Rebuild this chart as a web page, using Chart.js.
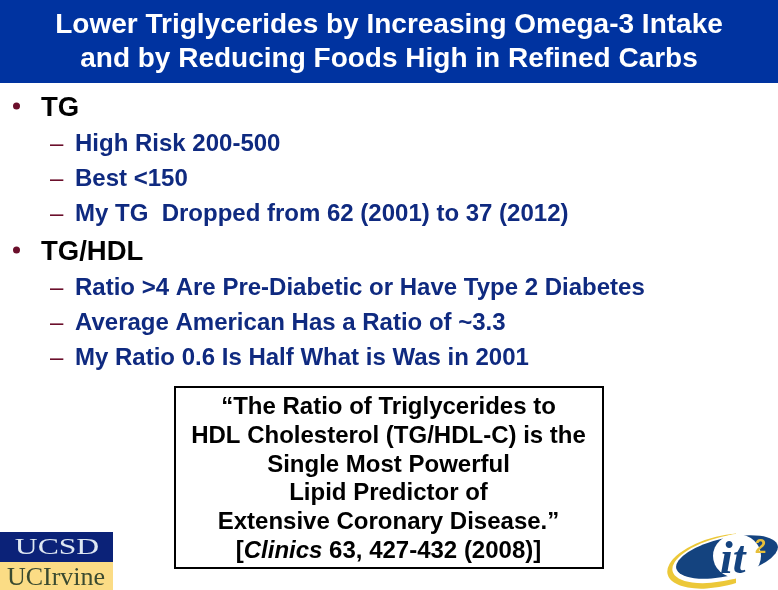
<!DOCTYPE html>
<html lang="en">
<head>
    <meta charset="UTF-8">
    <title>Lower Triglycerides</title>
    <style>
        html, body { margin: 0; padding: 0; background: #fff; overflow: hidden; }
        canvas { display: block; }
    </style>
</head>
<body>
    <canvas id="slide" width="778" height="590"></canvas>

    <script src="https://cdn.jsdelivr.net/npm/chart.js"></script>
    <script>
        const titleLines = ['Lower Triglycerides by Increasing Omega-3 Intake', 'and by Reducing Foods High in Refined Carbs'];
        const sectionOne = 'TG';
        const sectionOneItems = ['High Risk 200-500', 'Best <150', 'My TG  Dropped from 62 (2001) to 37 (2012)'];
        const sectionTwo = 'TG/HDL';
        const sectionTwoItems = ['Ratio >4 Are Pre-Diabetic or Have Type 2 Diabetes', 'Average American Has a Ratio of ~3.3', 'My Ratio 0.6 Is Half What is Was in 2001'];
        const quoteLines = ['\u201CThe Ratio of Triglycerides to', 'HDL Cholesterol (TG/HDL-C) is the', 'Single Most Powerful', 'Lipid Predictor of', 'Extensive Coronary Disease.\u201D'];
        const citation = ['[', 'Clinics', ' 63, 427-432 (2008)]'];

        const FONT = '"Liberation Sans", Arial, sans-serif';

        // slide furniture and body text, there is no data series on this one
        const slidePlugin = {
            id: 'slide',
            beforeDraw(chart) {
                const c = chart.ctx;
                c.save();
                c.fillStyle = '#ffffff';
                c.fillRect(0, 0, 778, 590);
                c.fillStyle = '#0033a0';
                c.fillRect(0, 0, 778, 83);
                c.restore();
            },
            afterDraw(chart) {
                const c = chart.ctx;
                c.save();
                c.textBaseline = 'alphabetic';

                function section(label, y, items, firstY) {
                    c.fillStyle = '#6b0f2b';
                    c.beginPath();
                    c.arc(16.5, y - 10, 3.5, 0, Math.PI * 2);
                    c.fill();
                    c.fillStyle = '#000';
                    c.textAlign = 'left';
                    c.font = 'bold 27.5px ' + FONT;
                    c.fillText(label, 41, y);
                    items.forEach((t, i) => {
                        const ly = firstY + i * 35;
                        c.font = '24px ' + FONT;
                        c.fillStyle = '#6b0f2b';
                        c.fillText('\u2013', 50, ly);
                        c.font = 'bold 24px ' + FONT;
                        c.fillStyle = '#0f2a80';
                        c.fillText(t, 75, ly);
                    });
                }
                section(sectionOne, 116, sectionOneItems, 151);
                section(sectionTwo, 260, sectionTwoItems, 295);

                // quote box
                c.fillStyle = '#000';
                c.strokeStyle = '#000';
                c.lineWidth = 2;
                c.strokeRect(175, 387, 428, 181);
                c.textAlign = 'center';
                c.font = 'bold 24px ' + FONT;
                quoteLines.forEach((t, i) => c.fillText(t, 388.5, 414 + i * 28.8));

                // citation has an italic word in it
                c.textAlign = 'left';
                const bold = 'bold 24px ' + FONT, ital = 'italic bold 24px ' + FONT;
                let w = 0;
                citation.forEach((t, i) => { c.font = i === 1 ? ital : bold; w += c.measureText(t).width; });
                let x = 388.5 - w / 2;
                citation.forEach((t, i) => {
                    c.font = i === 1 ? ital : bold;
                    c.fillText(t, x, 558);
                    x += c.measureText(t).width;
                });

                // UCSD / UCIrvine logo
                c.fillStyle = '#0b2278';
                c.fillRect(0, 532, 113, 30);
                c.fillStyle = '#fbdc85';
                c.fillRect(0, 562, 113, 28);
                c.textAlign = 'center';
                c.save();
                c.translate(57, 554);
                c.scale(1.32, 1);
                c.font = '24px "Liberation Serif", serif';
                c.fillStyle = '#dfe8f2';
                c.fillText('UCSD', 0, 0);
                c.restore();
                c.font = '26px "Liberation Serif", serif';
                c.fillStyle = '#3a4a30';
                c.fillText('UCIrvine', 56, 585);

                // it2 logo: yellow swoosh, white gap, navy ellipse
                c.save();
                c.beginPath();
                c.rect(660, 530, 76, 60);
                c.clip();
                c.fillStyle = '#ecc838';
                c.beginPath();
                c.ellipse(722, 561, 56, 25, -0.24, 0, Math.PI * 2);
                c.fill();
                c.fillStyle = '#fff';
                c.beginPath();
                c.ellipse(727, 558, 56, 22, -0.24, 0, Math.PI * 2);
                c.fill();
                c.restore();
                c.fillStyle = '#14437f';
                c.beginPath();
                c.ellipse(727, 557, 52, 19, -0.22, 0, Math.PI * 2);
                c.fill();
                c.fillStyle = '#fff';
                c.beginPath();
                c.ellipse(737, 556, 24, 22, 0, 0, Math.PI * 2);
                c.fill();
                c.fillStyle = '#14437f';
                c.textAlign = 'left';
                c.font = 'italic bold 46px "Liberation Serif", serif';
                c.fillText('it', 720, 573);
                c.fillStyle = '#e6bf3a';
                c.font = 'bold 20px ' + FONT;
                c.fillText('2', 755, 553);
                c.restore();
            }
        };

        new Chart(document.getElementById('slide'), {
            type: 'bar',
            data: { labels: [], datasets: [] },
            options: {
                responsive: false,
                animation: false,
                devicePixelRatio: 1,
                layout: { padding: 0 },
                scales: { x: { display: false }, y: { display: false } },
                plugins: {
                    legend: { display: false },
                    tooltip: { enabled: false },
                    title: {
                        display: true,
                        text: titleLines,
                        color: '#ffffff',
                        align: 'center',
                        font: { family: FONT, size: 28, weight: 'bold', lineHeight: 1.22 },
                        padding: { top: 8, bottom: 0 }
                    }
                }
            },
            plugins: [slidePlugin]
        });
    </script>
</body>
</html>
